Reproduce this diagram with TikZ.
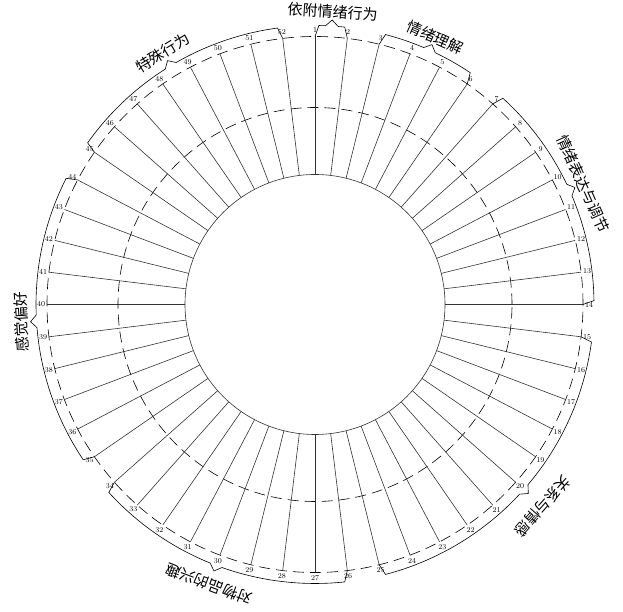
\documentclass[tikz,border=0pt]{standalone}
\usepackage{fontspec}
\newfontfamily\cjk{Noto Sans CJK SC}
\usetikzlibrary{calc}
\definecolor{SpokeGray}{rgb}{0.2, 0.2, 0.2}

\begin{document}
\begin{tikzpicture}[x=1pt, y=1pt,
    spoke/.style={line width=0.6pt, draw=SpokeGray},
    ring/.style={line width=0.6pt, dash pattern=on 11pt off 6pt},
    brace/.style={line width=0.6pt},
    numlabel/.style={font=\fontsize{7.5}{7.5}\selectfont, inner sep=0pt},
    grouplabel/.style={font=\cjk\fontsize{15}{15}\selectfont, inner sep=0pt, anchor=south}]
        \useasboundingbox (0,0) rectangle (623,612);
        \coordinate (C) at (315,307.5);
        % Inner circle and dashed rings
        \draw[spoke] (C) circle (130);
        \draw[ring] (C) circle (197);
        \draw[ring] (C) circle (268);
        % Spokes with their numbers
        \foreach \k in {1,...,52} {
            \pgfmathsetmacro{\ang}{90-(\k-1)*6.923077}
            \draw[spoke] ($(C)+(\ang:130)$) coordinate (in\k) -- ($(C)+(\ang:268)$) coordinate (out\k);
            \node[numlabel] (num\k) at ($(C)+(\ang:274)$) {\k};
        }
        % Group braces and names
        \foreach \ga/\gb/\gr/\gname in {1/2/286/依附情绪行为, 3/6/286/情绪理解, 7/14/287/情绪表达与调节, 15/25/297/关系与情感, 26/34/292/对物品的兴趣, 35/44/287/感觉偏好, 45/52/287/特殊行为} {
            \pgfmathsetmacro{\angA}{90-(\ga-1)*6.923077-0.8}
            \pgfmathsetmacro{\angB}{90-(\gb-1)*6.923077+0.8}
            \pgfmathsetmacro{\angM}{(\angA+\angB)/2}
            \pgfmathsetmacro{\angP}{\angM+1.3}
            \pgfmathsetmacro{\angQ}{\angM-1.3}
            \pgfmathsetmacro{\rot}{\angM-90}
            \draw[brace] (out\ga) -- ($(C)+(\angA:279)$) arc[start angle=\angA, end angle=\angP, radius=279]
                -- ($(C)+(\angM:285)$) -- ($(C)+(\angQ:279)$) arc[start angle=\angQ, end angle=\angB, radius=279] -- (out\gb);
            \node[grouplabel, rotate=\rot] (grp\ga) at ($(C)+(\angM:\gr)$) {\gname};
        }
    \end{tikzpicture}
\end{document}
